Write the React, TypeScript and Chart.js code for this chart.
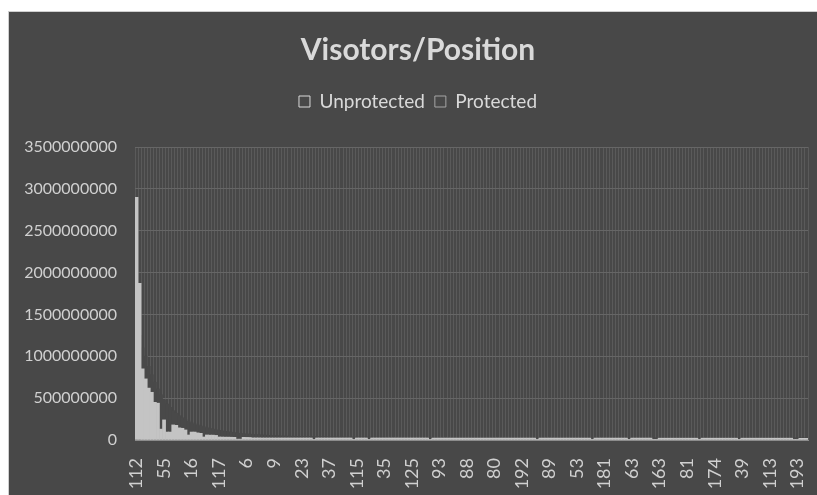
import { useEffect, useRef } from 'react';
import { Chart, registerables } from 'chart.js';

Chart.register(...registerables);

// Visible x-axis tick labels (every 9th category is labelled in the reference)
const tickLabels = [
  '112', '55', '16', '117', '6', '9', '23', '37', '115', '35', '125', '93', '88',
  '80', '192', '89', '53', '181', '63', '163', '81', '174', '39', '113', '193',
];
const labelStep = 9;

const seriesNames = ['Unprotected', 'Protected'];

// Visitors per position, in millions
const unprotectedMillions = [
  2900, 1870, 850, 730, 620, 570, 450, 440, 130, 240, 95, 95, 180, 175, 145, 140, 120, 60, 95, 95,
  85, 80, 36, 60, 58, 58, 55, 36, 35, 34, 34, 33, 32, 10, 10, 32, 31, 30, 25, 25,
  25, 24, 24, 24, 24, 24, 24, 24, 24, 24, 24, 24, 24, 24, 24, 24, 24, 24, 8, 24,
  24, 24, 24, 24, 24, 24, 24, 24, 24, 24, 24, 8, 24, 24, 24, 24, 8, 24, 24, 24,
  24, 24, 24, 24, 24, 24, 24, 24, 24, 24, 24, 24, 24, 24, 24, 24, 8, 23, 23, 23,
  23, 23, 23, 23, 23, 23, 23, 23, 23, 23, 23, 23, 23, 23, 23, 23, 23, 23, 23, 23,
  23, 23, 23, 23, 23, 23, 23, 23, 23, 23, 23, 8, 23, 23, 23, 23, 23, 23, 23, 23,
  23, 23, 23, 23, 23, 23, 23, 23, 23, 8, 23, 23, 23, 23, 23, 23, 23, 23, 23, 23,
  23, 8, 23, 23, 23, 23, 23, 23, 23, 8, 8, 22, 22, 22, 22, 22, 22, 22, 22, 22,
  22, 22, 22, 22, 8, 22, 22, 22, 22, 22, 22, 22, 22, 22, 22, 22, 22, 8, 22, 22,
  22, 22, 22, 22, 22, 22, 22, 22, 22, 22, 22, 22, 22, 22, 22, 8, 8, 20, 20, 20,
];

const protectedMillions = [
  1500, 1250, 1100, 1000, 880, 780, 690, 610, 540, 480, 430, 390, 350, 320, 290, 265, 245, 225, 208, 193,
  180, 168, 157, 147, 138, 130, 122, 115, 109, 103, 98, 93, 88, 84, 80, 76, 73, 70, 67, 64,
  62, 60, 58, 56, 54, 52, 51, 49, 48, 47, 46, 45, 44, 43, 42, 41, 40, 40, 39, 39,
  38, 38, 38, 37, 37, 37, 36, 36, 36, 35, 35, 35, 35, 34, 34, 34, 34, 33, 33, 33,
  33, 33, 32, 32, 32, 32, 32, 31, 31, 31, 31, 31, 31, 30, 30, 30, 30, 30, 30, 30,
  30, 30, 30, 29, 29, 29, 29, 29, 29, 29, 29, 29, 29, 28, 28, 28, 28, 28, 28, 28,
  28, 28, 28, 28, 28, 28, 28, 28, 27, 27, 27, 27, 27, 27, 27, 27, 27, 27, 27, 27,
  27, 27, 27, 27, 26, 26, 26, 26, 26, 26, 26, 26, 26, 26, 26, 26, 26, 26, 26, 26,
  26, 26, 26, 26, 26, 26, 25, 25, 25, 25, 25, 25, 25, 25, 25, 25, 25, 25, 25, 25,
  25, 25, 25, 25, 25, 25, 25, 25, 25, 25, 24, 24, 24, 24, 24, 24, 24, 24, 24, 24,
  24, 24, 24, 24, 24, 24, 24, 24, 24, 24, 24, 24, 24, 24, 24, 24, 24, 24, 24, 24,
];

const yMax = 3500000000;
const yStep = 500000000;

const BG = '#484848';

const legendGap = {
  id: 'legendGap',
  beforeLayout(chart: any) {
    const lg = chart.legend;
    if (lg && !lg._gapPatched) {
      const fit = lg.fit;
      lg.fit = function () {
        fit.call(this);
        this.height += 26;
      };
      lg._gapPatched = true;
    }
  },
};

export default function App() {
  const canvasRef = useRef<HTMLCanvasElement | null>(null);

  useEffect(() => {
    const canvas = canvasRef.current;
    if (!canvas) return;

    const categories = unprotectedMillions.map((_, i) =>
      i % labelStep === 0 && tickLabels[i / labelStep] !== undefined ? tickLabels[i / labelStep] : ''
    );

    const chart = new Chart(canvas, {
      type: 'bar',
      data: {
        labels: categories,
        datasets: [
          {
            label: seriesNames[0],
            data: unprotectedMillions.map((v) => v * 1e6),
            backgroundColor: '#c4c4c4',
            borderWidth: 0,
            order: 0,
            grouped: false,
            categoryPercentage: 1,
            barPercentage: 1,
          } as any,
          {
            label: seriesNames[1],
            data: protectedMillions.map((v) => v * 1e6),
            backgroundColor: '#494949',
            borderWidth: 0,
            order: 1,
            grouped: false,
            categoryPercentage: 1,
            barPercentage: 1,
          } as any,
        ],
      },
      options: {
        responsive: false,
        animation: false,
        devicePixelRatio: 1,
        layout: { padding: { left: 10, right: 0, top: 0, bottom: 0 } },
        plugins: {
          title: {
            display: true,
            text: 'Visotors/Position',
            color: '#d9d9d9',
            font: { family: 'Lato', size: 30, weight: 'bold' },
            padding: { top: 20, bottom: 14 },
          },
          legend: {
            display: true,
            position: 'top',
            labels: {
              color: '#d9d9d9',
              font: { family: 'Lato', size: 19 },
              boxWidth: 11,
              boxHeight: 11,
              padding: 10,
              generateLabels: (c: any) =>
                c.data.datasets.map((ds: any, i: number) => ({
                  text: ds.label,
                  fillStyle: BG,
                  strokeStyle: i === 0 ? '#d9d9d9' : '#a6a6a6',
                  lineWidth: 1,
                  hidden: false,
                  datasetIndex: i,
                  fontColor: '#d9d9d9',
                })),
            },
          },
          tooltip: { enabled: false },
        },
        scales: {
          x: {
            grid: { color: '#5a5a5a', offset: true, drawTicks: false, lineWidth: 1 },
            border: { display: true, color: '#8c8c8c' },
            ticks: {
              autoSkip: false,
              maxRotation: 90,
              minRotation: 90,
              color: '#d0d0d0',
              font: { family: 'Lato', size: 18 },
              padding: 18,
            },
            afterFit: (s: any) => {
              s.height = 55;
              s.paddingLeft = 0;
              s.paddingRight = 9;
            },
          },
          y: {
            min: 0,
            max: yMax,
            ticks: {
              stepSize: yStep,
              color: '#d0d0d0',
              font: { family: 'Lato', size: 16 },
              padding: 18,
              callback: (v: any) => String(v),
            },
            grid: { color: '#666666', drawTicks: false },
            border: { display: false },
            afterFit: (s: any) => {
              s.width = 116;
            },
          },
        },
      } as any,
      plugins: [legendGap],
    });

    return () => chart.destroy();
  }, []);

  return (
    <div
      style={{
        position: 'absolute',
        left: 8,
        top: 11,
        width: 809,
        height: 484,
        boxSizing: 'border-box',
        borderTop: '1px solid #cfcfcf',
        borderLeft: '1px solid #cfcfcf',
        background: BG,
      }}
    >
      <canvas ref={canvasRef} width={808} height={483} style={{ display: 'block' }} />
    </div>
  );
}
